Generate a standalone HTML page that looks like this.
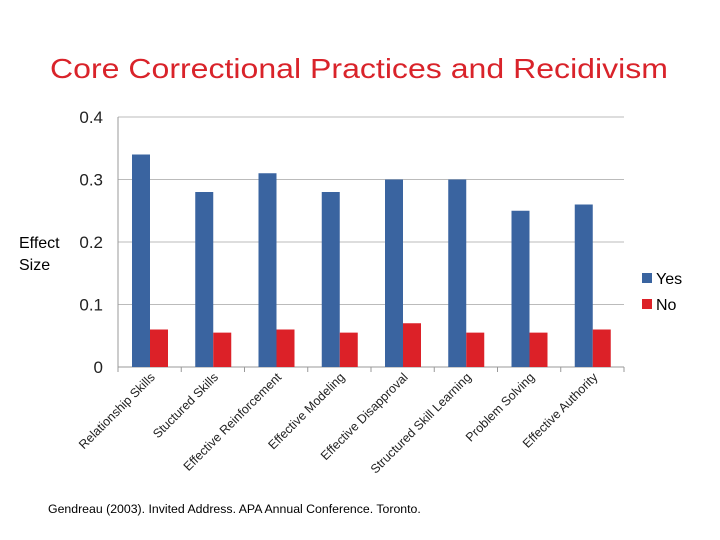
<!DOCTYPE html>
<html><head><meta charset="utf-8"><style>
body{margin:0;background:#fff;}
svg{display:block;font-family:"Liberation Sans",Arial,sans-serif;}
</style></head><body>
<svg id="chart" width="720" height="540">
<text x="50" y="78" font-size="28" fill="#d9232a" textLength="618" lengthAdjust="spacingAndGlyphs">Core Correctional Practices and Recidivism</text>
<text x="19" y="248" font-size="16" fill="#000"><tspan x="19">Effect</tspan><tspan x="19" dy="22">Size</tspan></text>
<g id="grid"></g><g id="bars"></g><g id="labels"></g>
<rect x="642" y="273" width="10" height="10" fill="#3a64a0"/>
<text x="656" y="284" font-size="16">Yes</text>
<rect x="642" y="299" width="10" height="10" fill="#dc2128"/>
<text x="656" y="310" font-size="16">No</text>
<text x="48" y="513" font-size="12.3">Gendreau (2003). Invited Address.  APA Annual Conference. Toronto.</text>
</svg>
<script>
const categories=["Relationship Skills","Stuctured Skills","Effective Reinforcement","Effective Modeling","Effective Disapproval","Structured Skill Learning","Problem Solving","Effective Authority"];
const yesValues=[0.34,0.28,0.31,0.28,0.30,0.30,0.25,0.26];
const noValues=[0.06,0.055,0.06,0.055,0.07,0.055,0.055,0.06];
const ticks=[0,0.1,0.2,0.3,0.4];
const tickLabels=["0","0.1","0.2","0.3","0.4"];
const NS="http://www.w3.org/2000/svg";
const x0=118,x1=624,yTop=117,yBot=367;
const y=v=>yBot-(v/0.4)*(yBot-yTop);
const gw=(x1-x0)/categories.length;
function mk(t,a,p){const e=document.createElementNS(NS,t);for(const k in a)e.setAttribute(k,a[k]);p.appendChild(e);return e;}
const grid=document.getElementById('grid'),bars=document.getElementById('bars'),labels=document.getElementById('labels');
ticks.forEach((t,i)=>{
  const l=mk('line',{x1:x0,x2:x1,y1:y(t),y2:y(t),stroke:i==0?'#999':'#bbb','stroke-width':1},grid);
  
  
  const tx=mk('text',{x:103,y:y(t)+6,'text-anchor':'end','font-size':17,fill:'#222'},grid);
  tx.textContent=tickLabels[i];
  
  
});
mk('line',{x1:x0,x2:x0,y1:yTop,y2:yBot,stroke:'#999'},grid);
categories.forEach((c,i)=>{
  const gx=x0+i*gw;
  mk('line',{x1:gx,x2:gx,y1:yBot,y2:yBot+5,stroke:'#999'},grid);
  const b1=mk('rect',{x:gx+14,y:y(yesValues[i]),width:18,height:yBot-y(yesValues[i]),fill:'#3a64a0'},bars);
  
  
  const b2=mk('rect',{x:gx+32,y:y(noValues[i]),width:18,height:yBot-y(noValues[i]),fill:'#dc2128'},bars);
  
  
  const cx=gx+gw/2+6,cy=378;
  const t=mk('text',{x:cx,y:cy,'text-anchor':'end','font-size':12.5,fill:'#222',transform:`rotate(-45 ${cx} ${cy})`},labels);
  t.textContent=c;
  
  
});
mk('line',{x1:x1,x2:x1,y1:yBot,y2:yBot+5,stroke:'#999'},grid);
</script>
</body></html>
